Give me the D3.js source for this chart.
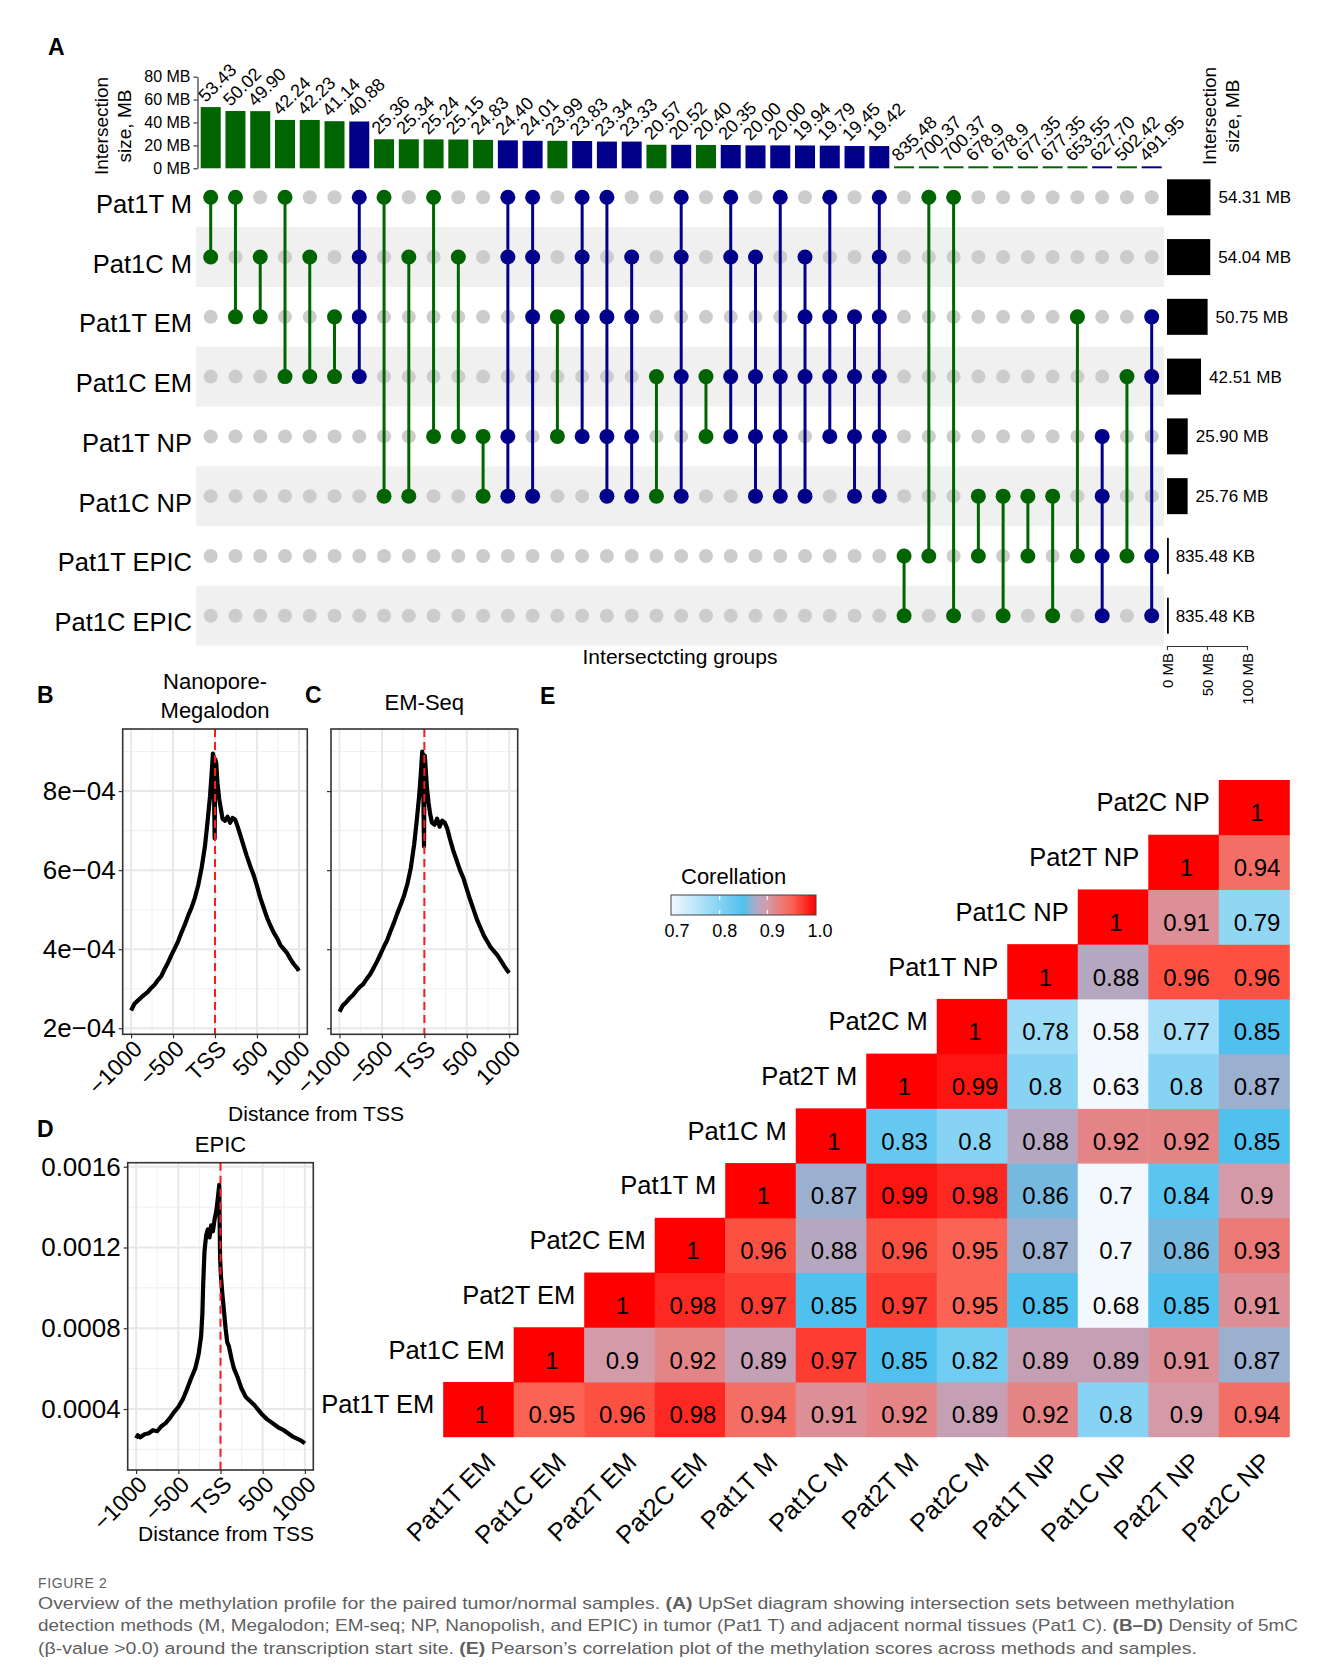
<!DOCTYPE html>
<html>
<head>
<meta charset="utf-8">
<script src="https://cdn.jsdelivr.net/npm/d3@7"></script>
<style>
body { margin: 0; background: #fff; }
text { font-family: "Liberation Sans", Arial, Helvetica, sans-serif; }
</style>
</head>
<body>
<script>
// ---------- panel A: UpSet data ----------
const setNames = ["Pat1T M", "Pat1C M", "Pat1T EM", "Pat1C EM", "Pat1T NP", "Pat1C NP", "Pat1T EPIC", "Pat1C EPIC"];
const setSizesMB = [54.31, 54.04, 50.75, 42.51, 25.90, 25.76, 0.83548, 0.83548];
const setSizeLabels = ["54.31 MB", "54.04 MB", "50.75 MB", "42.51 MB", "25.90 MB", "25.76 MB", "835.48 KB", "835.48 KB"];

const interLabels = ["53.43", "50.02", "49.90", "42.24", "42.23", "41.14", "40.88", "25.36", "25.34", "25.24",
  "25.15", "24.83", "24.40", "24.01", "23.99", "23.83", "23.34", "23.33", "20.57", "20.52", "20.40", "20.35",
  "20.00", "20.00", "19.94", "19.79", "19.45", "19.42",
  "835.48", "700.37", "700.37", "678.9", "678.9", "677.35", "677.35", "653.55", "627.70", "502.42", "491.95"];
// the last 11 are in KB
const interSizesMB = [53.43, 50.02, 49.90, 42.24, 42.23, 41.14, 40.88, 25.36, 25.34, 25.24,
  25.15, 24.83, 24.40, 24.01, 23.99, 23.83, 23.34, 23.33, 20.57, 20.52, 20.40, 20.35,
  20.00, 20.00, 19.94, 19.79, 19.45, 19.42,
  0.83548, 0.70037, 0.70037, 0.6789, 0.6789, 0.67735, 0.67735, 0.65355, 0.62770, 0.50242, 0.49195];
const interSets = [[0,1],[0,2],[1,2],[0,3],[1,3],[2,3],[0,1,2,3],[0,5],[1,5],[0,4],
  [1,4],[4,5],[0,1,4,5],[0,1,2,5],[2,4],[0,1,2,4],[0,2,4,5],[1,2,4,5],[3,5],[0,1,3,5],
  [3,4],[0,1,3,4],[1,3,4,5],[0,3,4,5],[1,2,3,5],[0,2,3,4],[2,3,4,5],[0,1,2,3,4,5],
  [6,7],[0,6],[0,7],[5,6],[5,7],[5,6],[5,7],[2,6],[4,5,6,7],[3,6],[2,3,6,7]];
const topTicks = [0, 20, 40, 60, 80];
const setTicks = [0, 50, 100];

// ---------- panels B-D: density around TSS ----------
const tssPos = [-1000,-960,-920,-880,-840,-800,-760,-720,-680,-640,-600,-560,-520,-480,-440,-400,-360,-320,-280,-240,
  -200,-160,-120,-90,-60,-40,-25,-15,-8,-4,0,5,15,30,50,70,90,120,150,180,210,240,270,300,340,380,420,460,500,540,
  580,620,660,700,740,780,820,860,900,940,980,1000];
const megalodonDensity = [2.45e-4,2.62e-4,2.70e-4,2.78e-4,2.85e-4,2.92e-4,3.02e-4,3.10e-4,3.22e-4,3.32e-4,
  3.50e-4,3.66e-4,3.85e-4,4.02e-4,4.20e-4,4.42e-4,4.62e-4,4.85e-4,5.05e-4,5.30e-4,
  5.62e-4,6.05e-4,6.60e-4,7.20e-4,7.85e-4,8.45e-4,8.95e-4,8.80e-4,7.40e-4,6.80e-4,
  8.10e-4,8.80e-4,8.70e-4,8.20e-4,7.80e-4,7.55e-4,7.30e-4,7.25e-4,7.35e-4,7.20e-4,
  7.32e-4,7.28e-4,7.10e-4,6.90e-4,6.62e-4,6.35e-4,6.10e-4,5.88e-4,5.60e-4,5.30e-4,
  5.05e-4,4.80e-4,4.60e-4,4.42e-4,4.28e-4,4.10e-4,4.00e-4,3.90e-4,3.75e-4,3.62e-4,3.52e-4,3.45e-4];
const emseqDensity = [2.42e-4,2.58e-4,2.66e-4,2.76e-4,2.84e-4,2.95e-4,3.05e-4,3.12e-4,3.25e-4,3.36e-4,
  3.52e-4,3.68e-4,3.86e-4,4.05e-4,4.22e-4,4.45e-4,4.66e-4,4.90e-4,5.12e-4,5.35e-4,
  5.65e-4,6.05e-4,6.65e-4,7.25e-4,7.90e-4,8.50e-4,9.00e-4,8.85e-4,7.20e-4,6.60e-4,
  8.00e-4,8.90e-4,8.60e-4,8.10e-4,7.70e-4,7.40e-4,7.20e-4,7.15e-4,7.30e-4,7.10e-4,
  7.25e-4,7.20e-4,7.05e-4,6.80e-4,6.50e-4,6.25e-4,6.00e-4,5.80e-4,5.52e-4,5.25e-4,
  5.00e-4,4.75e-4,4.55e-4,4.35e-4,4.20e-4,4.05e-4,3.95e-4,3.85e-4,3.72e-4,3.58e-4,3.45e-4,3.40e-4];
const epicPos = [-1000,-980,-950,-900,-850,-800,-750,-700,-650,-600,-550,-500,-450,-400,-350,-300,-260,-230,-215,-205,
  -190,-170,-150,-130,-110,-90,-70,-50,-30,-15,-5,5,20,40,60,80,100,130,160,200,
  250,300,350,400,450,500,550,600,650,700,750,800,850,900,950,1000];
const epicDensity = [2.55e-4,2.70e-4,2.60e-4,2.75e-4,2.80e-4,2.95e-4,2.90e-4,3.15e-4,3.30e-4,3.55e-4,
  3.85e-4,4.10e-4,4.45e-4,4.95e-4,5.50e-4,6.00e-4,6.70e-4,7.60e-4,8.70e-4,10.2e-4,
  11.8e-4,12.6e-4,12.9e-4,12.5e-4,13.1e-4,12.8e-4,13.4e-4,13.8e-4,14.5e-4,15.1e-4,
  11.5e-4,10.6e-4,9.80e-4,8.90e-4,8.00e-4,7.30e-4,7.10e-4,6.50e-4,6.00e-4,5.60e-4,
  5.00e-4,4.60e-4,4.40e-4,4.20e-4,3.95e-4,3.70e-4,3.50e-4,3.35e-4,3.20e-4,3.05e-4,
  2.95e-4,2.80e-4,2.65e-4,2.55e-4,2.45e-4,2.30e-4];
const tssTicks = [-1000, -500, 0, 500, 1000];
const bcTicks = [2e-4, 4e-4, 6e-4, 8e-4];
const dTicks = [0.0004, 0.0008, 0.0012, 0.0016];

// ---------- panel E: correlation ----------
const corrNames = ["Pat1T EM", "Pat1C EM", "Pat2T EM", "Pat2C EM", "Pat1T M", "Pat1C M", "Pat2T M", "Pat2C M",
  "Pat1T NP", "Pat1C NP", "Pat2T NP", "Pat2C NP"];
// row i holds the correlations with columns i..11
const corrRows = [
  [1, 0.95, 0.96, 0.98, 0.94, 0.91, 0.92, 0.89, 0.92, 0.8, 0.9, 0.94],
  [1, 0.9, 0.92, 0.89, 0.97, 0.85, 0.82, 0.89, 0.89, 0.91, 0.87],
  [1, 0.98, 0.97, 0.85, 0.97, 0.95, 0.85, 0.68, 0.85, 0.91],
  [1, 0.96, 0.88, 0.96, 0.95, 0.87, 0.7, 0.86, 0.93],
  [1, 0.87, 0.99, 0.98, 0.86, 0.7, 0.84, 0.9],
  [1, 0.83, 0.8, 0.88, 0.92, 0.92, 0.85],
  [1, 0.99, 0.8, 0.63, 0.8, 0.87],
  [1, 0.78, 0.58, 0.77, 0.85],
  [1, 0.88, 0.96, 0.96],
  [1, 0.91, 0.79],
  [1, 0.94],
  [1]
];
const legendTicks = [0.7, 0.8, 0.9, 1.0];

const GREEN = "#006400", BLUE = "#00008b";

const svg = d3.select("body").append("svg")
  .attr("width", 1330).attr("height", 1679);
svg.append("rect").attr("width", 1330).attr("height", 1679).attr("fill", "#fff");

function panelTag(t, x, y) {
  svg.append("text").attr("x", x).attr("y", y).attr("font-size", 23)
    .attr("font-weight", "bold").text(t);
}

// ================= A =================
panelTag("A", 48, 55);
const xCol = d3.scalePoint().domain(d3.range(interSets.length)).range([210.7, 1151.7]);
const yRow = d3.scalePoint().domain(d3.range(setNames.length)).range([197.3, 615.7]);
const rowStep = yRow.step();
const yTop = d3.scaleLinear().domain([0, 80]).range([168.3, 76.7]);
const xSet = d3.scaleLinear().domain([0, 100]).range([1167, 1247]);
const colColor = s => s.length > 2 ? BLUE : GREEN;

const gA = svg.append("g");
gA.selectAll("rect.band").data(d3.range(setNames.length).filter(i => i % 2 === 1)).join("rect")
  .attr("x", 196).attr("width", 968)
  .attr("y", i => yRow(i) - rowStep / 2).attr("height", rowStep)
  .attr("fill", "#f0f0f0");

gA.selectAll("text.rowlab").data(setNames).join("text")
  .attr("x", 192).attr("y", (d, i) => yRow(i) + 15.5)
  .attr("text-anchor", "end").attr("font-size", 25.5).text(d => d);

// empty dots
const cells = [];
interSets.forEach((s, c) => setNames.forEach((n, r) => { if (!s.includes(r)) cells.push([c, r]); }));
gA.selectAll("circle.empty").data(cells).join("circle")
  .attr("cx", d => xCol(d[0])).attr("cy", d => yRow(d[1])).attr("r", 7).attr("fill", "#cccccc");

interSets.forEach((s, c) => {
  const col = colColor(s);
  gA.append("line").attr("x1", xCol(c)).attr("x2", xCol(c))
    .attr("y1", yRow(d3.min(s))).attr("y2", yRow(d3.max(s)))
    .attr("stroke", col).attr("stroke-width", 3);
  gA.selectAll(null).data(s).join("circle")
    .attr("cx", xCol(c)).attr("cy", r => yRow(r)).attr("r", 7.5).attr("fill", col);
});

// intersection bars
gA.selectAll("rect.ibar").data(interSizesMB).join("rect")
  .attr("x", (d, i) => xCol(i) - 10).attr("width", 20)
  .attr("y", d => Math.min(yTop(d), yTop(0) - 2))
  .attr("height", d => Math.max(yTop(0) - yTop(d), 2))
  .attr("fill", (d, i) => colColor(interSets[i]));
gA.selectAll("text.ilab").data(interLabels).join("text")
  .attr("transform", (d, i) => `translate(${xCol(i) - 5},${Math.min(yTop(interSizesMB[i]), yTop(0) - 2) - 4}) rotate(-45)`)
  .attr("font-size", 18).text(d => d);

const axTop = gA.append("g").attr("transform", "translate(197.5,0)")
  .call(d3.axisLeft(yTop).tickValues(topTicks).tickFormat(d => d + " MB").tickSize(4).tickSizeOuter(0));
axTop.select(".domain").attr("stroke", "#333").attr("stroke-width", 1.2);
axTop.selectAll(".tick line").attr("stroke", "#333").attr("stroke-width", 1.2);
axTop.selectAll(".tick text").attr("font-size", 16).attr("font-family", "Liberation Sans, Arial").attr("fill", "#000").attr("x", -7);

function twoLineLabel(x, y, l1, l2) {
  const t = gA.append("text").attr("transform", `translate(${x},${y}) rotate(-90)`)
    .attr("text-anchor", "middle").attr("font-size", 19);
  t.append("tspan").attr("x", 0).attr("y", 0).text(l1);
  t.append("tspan").attr("x", 0).attr("y", 23).text(l2);
}
twoLineLabel(108, 126, "Intersection", "size, MB");
twoLineLabel(1216, 116, "Intersection", "size, MB");

// set size bars
gA.selectAll("rect.sbar").data(setSizesMB).join("rect")
  .attr("x", xSet(0)).attr("width", d => Math.max(xSet(d) - xSet(0), 1.8))
  .attr("y", (d, i) => yRow(i) - 18).attr("height", 36).attr("fill", "#000");
gA.selectAll("text.slab").data(setSizeLabels).join("text")
  .attr("x", (d, i) => xSet(setSizesMB[i]) + 8).attr("y", (d, i) => yRow(i) + 6)
  .attr("font-size", 17).text(d => d);
const axSet = gA.append("g").attr("transform", "translate(0,646)")
  .call(d3.axisBottom(xSet).tickValues(setTicks).tickFormat(d => d + " MB").tickSize(4).tickSizeOuter(0));
axSet.select(".domain").attr("stroke", "#333").attr("stroke-width", 1.2);
axSet.selectAll(".tick line").attr("stroke", "#333").attr("stroke-width", 1.2);
axSet.selectAll(".tick text").attr("font-size", 15).attr("font-family", "Liberation Sans, Arial").attr("fill", "#000")
  .attr("transform", "rotate(-90)").attr("text-anchor", "end").attr("x", -7).attr("y", 0).attr("dy", "0.35em");

gA.append("text").attr("x", 680).attr("y", 664).attr("text-anchor", "middle")
  .attr("font-size", 21).text("Intersectcting groups");

// ================= B, C, D =================
function density(opts) {
  const g = svg.append("g");
  const x = d3.scaleLinear().domain([-1100, 1100]).range([opts.x0, opts.x1]);
  const y = d3.scaleLinear().domain(opts.yDomain).range([opts.y1, opts.y0]);
  const inY = v => v >= opts.yDomain[0] && v <= opts.yDomain[1];
  // grid
  g.selectAll("line.mx").data(opts.minorY.filter(inY)).join("line")
    .attr("x1", opts.x0).attr("x2", opts.x1).attr("y1", d => y(d)).attr("y2", d => y(d))
    .attr("stroke", "#f1f1f1").attr("stroke-width", 1.1);
  g.selectAll("line.mxx").data([-750, -250, 250, 750]).join("line")
    .attr("y1", opts.y0).attr("y2", opts.y1).attr("x1", d => x(d)).attr("x2", d => x(d))
    .attr("stroke", "#f1f1f1").attr("stroke-width", 1.1);
  g.selectAll("line.gy").data(opts.ticks).join("line")
    .attr("x1", opts.x0).attr("x2", opts.x1).attr("y1", d => y(d)).attr("y2", d => y(d))
    .attr("stroke", "#e8e8e8").attr("stroke-width", 2);
  g.selectAll("line.gx").data(tssTicks).join("line")
    .attr("y1", opts.y0).attr("y2", opts.y1).attr("x1", d => x(d)).attr("x2", d => x(d))
    .attr("stroke", "#e8e8e8").attr("stroke-width", 2);
  // curve
  const pts = opts.xs.map((v, i) => [v, opts.ys[i]]);
  g.append("path").datum(pts)
    .attr("fill", "none").attr("stroke", "#000").attr("stroke-width", 4.2).attr("stroke-linejoin", "round")
    .attr("d", d3.line().x(d => x(d[0])).y(d => y(d[1])));
  g.append("line").attr("x1", x(0)).attr("x2", x(0)).attr("y1", opts.y0).attr("y2", opts.y1)
    .attr("stroke", "#ff1a1a").attr("stroke-width", 2).attr("stroke-dasharray", "8,5");
  g.append("rect").attr("x", opts.x0).attr("y", opts.y0)
    .attr("width", opts.x1 - opts.x0).attr("height", opts.y1 - opts.y0)
    .attr("fill", "none").attr("stroke", "#333").attr("stroke-width", 1.6);
  // axes
  const ay = g.append("g").attr("transform", `translate(${opts.x0},0)`)
    .call(d3.axisLeft(y).tickValues(opts.ticks).tickSize(4).tickFormat(opts.showY ? opts.fmt : ""));
  ay.select(".domain").remove();
  ay.selectAll(".tick line").attr("stroke", "#333").attr("stroke-width", 1.2);
  ay.selectAll(".tick text").attr("font-size", 26).attr("font-family", "Liberation Sans, Arial").attr("fill", "#000").attr("x", -7);
  const ax = g.append("g").attr("transform", `translate(0,${opts.y1})`)
    .call(d3.axisBottom(x).tickValues(tssTicks).tickSize(4)
      .tickFormat(d => d === 0 ? "TSS" : (d < 0 ? "\u2212" + Math.abs(d) : d)));
  ax.select(".domain").remove();
  ax.selectAll(".tick line").attr("stroke", "#333").attr("stroke-width", 1.2);
  ax.selectAll(".tick text").attr("font-size", 23).attr("font-family", "Liberation Sans, Arial").attr("fill", "#000")
    .attr("text-anchor", "end").attr("x", null).attr("y", null).attr("dy", null)
    .attr("transform", "translate(12,16) rotate(-45)");
  // title
  const t = svg.append("text").attr("text-anchor", "middle").attr("font-size", 22);
  opts.title.forEach((l, i) => t.append("tspan").attr("x", (opts.x0 + opts.x1) / 2)
    .attr("y", opts.titleY + i * 29).text(l));
}
const fmtE = d => d3.format(".0e")(d).replace("e-", "e\u22120");

density({x0: 122.7, x1: 307.3, y0: 729, y1: 1034.3, yDomain: [1.848e-4, 9.57e-4],
  ticks: bcTicks, minorY: [1e-4, 3e-4, 5e-4, 7e-4, 9e-4], showY: true, fmt: fmtE,
  xs: tssPos, ys: megalodonDensity, title: ["Nanopore-", "Megalodon"], titleY: 689});
density({x0: 331, x1: 517.7, y0: 729, y1: 1034.3, yDomain: [1.848e-4, 9.57e-4],
  ticks: bcTicks, minorY: [1e-4, 3e-4, 5e-4, 7e-4, 9e-4], showY: false, fmt: fmtE,
  xs: tssPos, ys: emseqDensity, title: ["EM-Seq"], titleY: 710});
density({x0: 127.7, x1: 313.3, y0: 1162.7, y1: 1470, yDomain: [0.98e-4, 16.2e-4],
  ticks: dTicks, minorY: [0.0002, 0.0006, 0.0010, 0.0014], showY: true, fmt: d3.format(".4f"),
  xs: epicPos, ys: epicDensity, title: ["EPIC"], titleY: 1152});

panelTag("B", 37, 703);
panelTag("C", 305, 703);
panelTag("D", 37, 1137);
svg.append("text").attr("x", 316).attr("y", 1121).attr("text-anchor", "middle").attr("font-size", 21).text("Distance from TSS");
svg.append("text").attr("x", 226).attr("y", 1541).attr("text-anchor", "middle").attr("font-size", 21).text("Distance from TSS");

// ================= E =================
panelTag("E", 540, 704);
const corrColor = d3.scaleLinear()
  .domain([0.7, 0.85, 0.875, 0.9, 0.95, 1.0])
  .range(["#f2f8fe", "#50c1ee", "#aeaac6", "#d49aa8", "#fb6454", "#ff0000"])
  .clamp(true);
const xCell = d3.scaleBand().domain(d3.range(12)).range([443.2, 1289.3]);
const yCell = d3.scaleBand().domain(d3.range(12)).range([1436.7, 780]);
const gE = svg.append("g");
const corrCells = [];
corrRows.forEach((row, i) => row.forEach((v, k) => corrCells.push({i, j: i + k, v})));
gE.selectAll("rect.cell").data(corrCells).join("rect")
  .attr("x", d => xCell(d.j)).attr("y", d => yCell(d.i))
  .attr("width", xCell.bandwidth() + 0.5).attr("height", yCell.bandwidth() + 0.5)
  .attr("fill", d => corrColor(d.v));
gE.selectAll("text.val").data(corrCells).join("text")
  .attr("x", d => xCell(d.j) + xCell.bandwidth() / 2 + 3)
  .attr("y", d => yCell(d.i) + yCell.bandwidth() / 2 + 14)
  .attr("text-anchor", "middle").attr("font-size", 24).text(d => String(d.v));
gE.selectAll("text.rlab").data(corrNames).join("text")
  .attr("x", (d, i) => xCell(i) - 9).attr("y", (d, i) => yCell(i) + yCell.bandwidth() / 2 + 4)
  .attr("text-anchor", "end").attr("font-size", 25.5).text(d => d);
gE.selectAll("text.clab").data(corrNames).join("text")
  .attr("transform", (d, j) => `translate(${xCell(j) + xCell.bandwidth() / 2 + 18.6},1463.5) rotate(-45)`)
  .attr("text-anchor", "end").attr("font-size", 25.5).text(d => d);

// legend
const legX = d3.scaleLinear().domain([0.7, 1.0]).range([672, 815]);
const grad = svg.append("defs").append("linearGradient").attr("id", "cgrad");
d3.range(0.7, 1.0001, 0.01).forEach(v => grad.append("stop")
  .attr("offset", ((v - 0.7) / 0.3 * 100) + "%").attr("stop-color", corrColor(v)));
svg.append("text").attr("x", 681).attr("y", 884).attr("font-size", 22).text("Corellation");
svg.append("rect").attr("x", 671).attr("y", 895).attr("width", 145).attr("height", 20)
  .attr("fill", "url(#cgrad)").attr("stroke", "#444").attr("stroke-width", 1);
svg.selectAll("line.lt").data(legendTicks.slice(1, 3)).join("line")
  .attr("x1", d => legX(d)).attr("x2", d => legX(d)).attr("y1", 896).attr("y2", 900)
  .attr("stroke", "#fff").attr("stroke-width", 1.2);
svg.selectAll("line.lb").data(legendTicks.slice(1, 3)).join("line")
  .attr("x1", d => legX(d)).attr("x2", d => legX(d)).attr("y1", 910).attr("y2", 914)
  .attr("stroke", "#fff").attr("stroke-width", 1.2);
svg.selectAll("text.ll").data(legendTicks).join("text")
  .attr("x", d => legX(d) + 5).attr("y", 937).attr("text-anchor", "middle").attr("font-size", 18)
  .text(d => d.toFixed(1));

// ================= caption =================
const cap = svg.append("g").attr("fill", "#5f5f5f");
cap.append("text").attr("x", 38).attr("y", 1588).attr("font-size", 14).attr("letter-spacing", 0.6)
  .attr("font-family", "Open Sans, sans-serif").text("FIGURE 2");
function capLine(y, len, parts) {
  const t = cap.append("text").attr("font-size", 17).attr("font-family", "Open Sans, sans-serif");
  parts.forEach(p => t.append("tspan").attr("font-weight", p[1] ? "bold" : null).text(p[0]));
  const w = t.node().getComputedTextLength();
  t.attr("transform", `translate(38,${y}) scale(${len / w},1)`);
}
capLine(1609, 1198, [["Overview of the methylation profile for the paired tumor/normal samples. "], ["(A)", 1],
  [" UpSet diagram showing intersection sets between methylation"]]);
capLine(1631, 1260, [["detection methods (M, Megalodon; EM-seq; NP, Nanopolish, and EPIC) in tumor (Pat1 T) and adjacent normal tissues (Pat1 C). "],
  ["(B\u2013D)", 1], [" Density of 5mC"]]);
capLine(1654, 1160, [["(\u03b2-value >0.0) around the transcription start site. "], ["(E)", 1],
  [" Pearson\u2019s correlation plot of the methylation scores across methods and samples."]]);
</script>
</body>
</html>
